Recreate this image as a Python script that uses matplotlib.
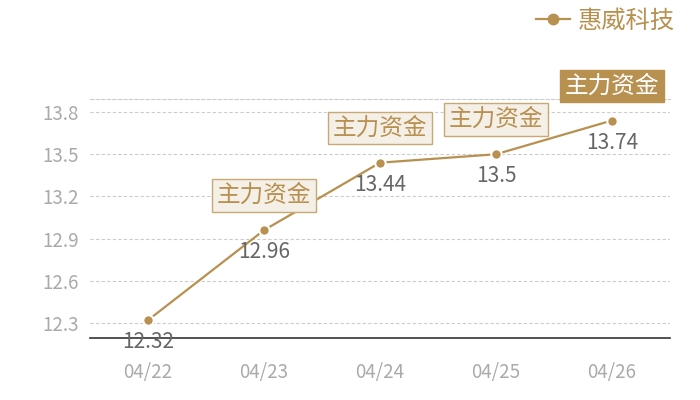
import matplotlib.pyplot as plt
from matplotlib.lines import Line2D

plt.rcParams['font.family'] = ['Noto Sans CJK SC', 'DejaVu Sans']

dates = ['04/22', '04/23', '04/24', '04/25', '04/26']
prices = [12.32, 12.96, 13.44, 13.5, 13.74]
tag_idx = [1, 2, 3, 4]          # points carrying a "主力资金" tag
highlight = 4                    # filled tag
series_name = '惠威科技'
tag_text = '主力资金'
yticks = [12.3, 12.6, 12.9, 13.2, 13.5, 13.8]

gold = '#b8904f'
box_face = '#f4efe7'
box_edge = '#c9a873'

fig = plt.figure(figsize=(7, 4), dpi=100)
ax = fig.add_axes([0.1286, 0.155, 0.8285, 0.5975])

x = range(len(dates))
ax.plot(x, prices, color=gold, lw=1.6, marker='o', ms=7.5,
        mec='white', mew=1.5, mfc=gold, zorder=3)

for i, v in enumerate(prices):
    ax.annotate(f'{v:g}', (i, v), xytext=(0, -16), textcoords='offset points',
                ha='center', va='center', fontsize=15, color='#666666')

for i in tag_idx:
    if i == highlight:
        bbox = dict(boxstyle='square,pad=0.2', fc=gold, ec=gold, lw=1)
        tc = 'white'
    else:
        bbox = dict(boxstyle='square,pad=0.2', fc=box_face, ec=box_edge, lw=1)
        tc = gold
    ax.annotate(tag_text, (i, prices[i]), xytext=(0, 25), textcoords='offset points',
                ha='center', va='center', fontsize=17, color=tc, bbox=bbox, zorder=5)

ax.set_xlim(-0.5, len(dates) - 0.5)
ax.set_ylim(12.193, 13.893)
ax.set_xticks(list(x))
ax.set_xticklabels(dates)
ax.set_yticks(yticks)
ax.set_yticklabels([f'{t:g}' for t in yticks])
ax.tick_params(axis='both', length=0, labelsize=13.5, labelcolor='#aaaaaa')
ax.tick_params(axis='x', pad=17)
ax.tick_params(axis='y', pad=8)

ax.grid(axis='y', color='#cccccc', lw=0.8, ls=(0, (3, 2)))
for s in ['left', 'right']:
    ax.spines[s].set_visible(False)
ax.spines['top'].set_color('#cccccc')
ax.spines['top'].set_linewidth(0.8)
ax.spines['top'].set_linestyle((0, (3, 2)))
ax.spines['bottom'].set_color('#333333')
ax.spines['bottom'].set_linewidth(1.2)

handle = Line2D([], [], color=gold, lw=1.6, marker='o', ms=7.5, mfc=gold, mec=gold)
fig.legend([handle], [series_name], loc='upper right', bbox_to_anchor=(0.995, 1.035),
           frameon=False, fontsize=17.5, labelcolor=gold, handlelength=1.4,
           handletextpad=0.3)

fig.savefig('out.png', dpi=100)
